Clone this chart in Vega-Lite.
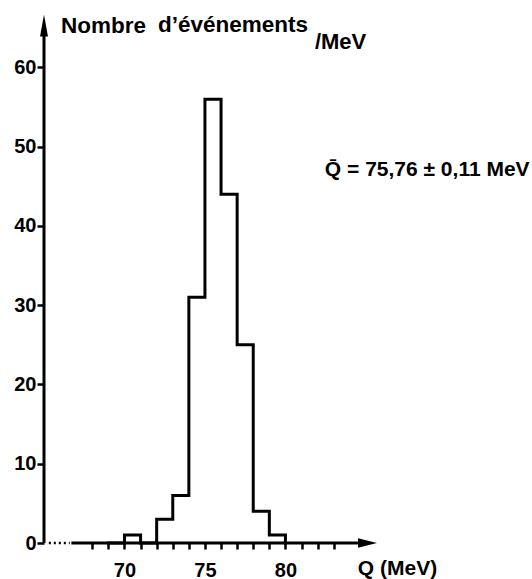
{
  "$schema": "https://vega.github.io/schema/vega-lite/v6.json",
  "width": 338,
  "height": 531,
  "autosize": "none",
  "padding": {"left": 44, "top": 12, "right": 150, "bottom": 36},
  "background": "white",
  "config": {
    "view": {"stroke": null},
    "font": "Liberation Sans",
    "axis": {"grid": false, "domain": false, "tickColor": "black", "labelColor": "black", "labelFont": "Liberation Sans", "labelFontWeight": "bold", "labelFontSize": 20, "title": null}
  },
  "datasets": {
    "hist": [
      {"q": 69, "n": 0},
      {"q": 70, "n": 1},
      {"q": 71, "n": 0},
      {"q": 72, "n": 3},
      {"q": 73, "n": 6},
      {"q": 74, "n": 31},
      {"q": 75, "n": 56},
      {"q": 76, "n": 44},
      {"q": 77, "n": 25},
      {"q": 78, "n": 4},
      {"q": 79, "n": 1},
      {"q": 80, "n": 0}
    ]
  },
  "layer": [
    {
      "data": {"name": "hist"},
      "mark": {"type": "line", "interpolate": "step-after", "color": "black", "strokeWidth": 3, "strokeCap": "square", "strokeJoin": "miter", "clip": false},
      "encoding": {
        "x": {"field": "q", "type": "quantitative", "scale": {"domain": [65, 86], "nice": false, "zero": false},
          "axis": {"values": [68, 69, 70, 71, 72, 73, 74, 75, 76, 77, 78, 79, 80, 81, 82, 83], "tickCount": 30, "labelExpr": "datum.value % 5 === 0 ? datum.value : ''", "tickSize": 6, "tickWidth": 2.5, "labelPadding": 11, "labelFlush": false, "labelOverlap": false}},
        "y": {"field": "n", "type": "quantitative", "scale": {"domain": [0, 67], "nice": false},
          "axis": {"values": [0, 10, 20, 30, 40, 50, 60], "tickCount": 10, "tickSize": 7, "tickWidth": 2.5, "labelPadding": 1}}
      }
    },
    {
      "data": {"values": [{}]},
      "mark": {"type": "rule", "color": "black", "strokeWidth": 3},
      "encoding": {"x": {"datum": 65}, "y": {"datum": 0}, "y2": {"datum": 65}}
    },
    {
      "data": {"values": [{}]},
      "mark": {"type": "rule", "color": "black", "strokeWidth": 3},
      "encoding": {"x": {"datum": 66.7}, "x2": {"datum": 85}, "y": {"datum": 0}}
    },
    {
      "data": {"values": [{}]},
      "mark": {"type": "rule", "color": "black", "strokeWidth": 2.5, "strokeDash": [2, 3]},
      "encoding": {"x": {"datum": 65.3}, "x2": {"datum": 66.6}, "y": {"datum": 0}}
    },
    {
      "data": {"values": [{}]},
      "mark": {"type": "point", "filled": true, "color": "black", "opacity": 1, "shape": "M-1,-0.5L1,0L-1,0.5Z", "size": 361},
      "encoding": {"x": {"datum": 85.1}, "y": {"datum": 0}}
    },
    {
      "data": {"values": [{}]},
      "mark": {"type": "point", "filled": true, "color": "black", "opacity": 1, "shape": "M-0.36,1L0,-1L0.36,1Z", "size": 484},
      "encoding": {"x": {"datum": 65}, "y": {"datum": 65.3}}
    },
    {
      "data": {"values": [{}]},
      "mark": {"type": "text", "align": "left", "baseline": "alphabetic", "fontSize": 22.5, "fontWeight": "bold", "font": "Liberation Sans", "color": "black"},
      "encoding": {"x": {"datum": 66.06}, "y": {"datum": 64.35}, "text": {"value": "Nombre"}}
    },
    {
      "data": {"values": [{}]},
      "mark": {"type": "text", "align": "left", "baseline": "alphabetic", "fontSize": 22.5, "fontWeight": "bold", "font": "Liberation Sans", "color": "black"},
      "encoding": {"x": {"datum": 72.08}, "y": {"datum": 64.45}, "text": {"value": "d’événements"}}
    },
    {
      "data": {"values": [{}]},
      "mark": {"type": "text", "align": "left", "baseline": "alphabetic", "fontSize": 22, "fontWeight": "bold", "font": "Liberation Sans", "color": "black"},
      "encoding": {"x": {"datum": 81.83}, "y": {"datum": 62.3}, "text": {"value": "/MeV"}}
    },
    {
      "data": {"values": [{}]},
      "mark": {"type": "text", "align": "left", "baseline": "alphabetic", "fontSize": 21, "fontWeight": "bold", "font": "Liberation Sans", "color": "black"},
      "encoding": {"x": {"datum": 82.45}, "y": {"datum": 46.3}, "text": {"value": "Q̄ = 75,76 ±  0,11 MeV"}}
    },
    {
      "data": {"values": [{}]},
      "mark": {"type": "text", "align": "left", "baseline": "alphabetic", "fontSize": 21, "fontWeight": "bold", "font": "Liberation Sans", "color": "black"},
      "encoding": {"x": {"datum": 84.5}, "y": {"datum": -4.0}, "text": {"value": "Q (MeV)"}}
    }
  ]
}
